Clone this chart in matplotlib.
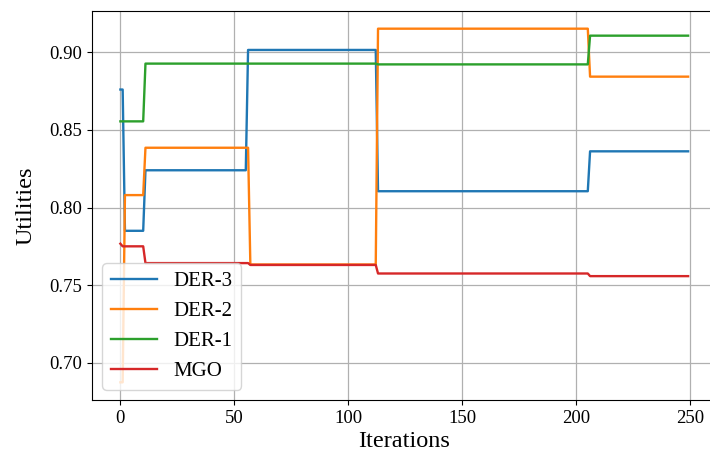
import numpy as np
import matplotlib
matplotlib.use("Agg")
import matplotlib.pyplot as plt

plt.rcParams["font.family"] = ["Liberation Serif", "DejaVu Serif"]
plt.rcParams["mathtext.fontset"] = "stix"

n_iter = 250
iterations = np.arange(n_iter)

# Piecewise-constant utility traces: iteration where each level starts, and the level
der3_starts = [0, 2, 11, 56, 113, 206]
der3_levels = [0.876, 0.785, 0.824, 0.9015, 0.8105, 0.8362]

der2_starts = [0, 2, 11, 57, 113, 206]
der2_levels = [0.6874, 0.808, 0.8385, 0.7633, 0.9152, 0.8843]

der1_starts = [0, 11, 113, 206]
der1_levels = [0.8555, 0.8927, 0.8922, 0.9107]

mgo_starts = [0, 1, 11, 57, 113, 206]
mgo_levels = [0.7767, 0.775, 0.7642, 0.763, 0.7575, 0.7558]

series_names = ["DER-3", "DER-2", "DER-1", "MGO"]


def expand(starts, levels):
    bounds = list(starts[1:]) + [n_iter]
    counts = np.diff([starts[0]] + bounds)
    return np.repeat(levels, counts)


series = [
    expand(der3_starts, der3_levels),
    expand(der2_starts, der2_levels),
    expand(der1_starts, der1_levels),
    expand(mgo_starts, mgo_levels),
]

W, H = 710, 461
fig = plt.figure(figsize=(W / 100, H / 100), dpi=100)
# the plot area runs slightly past the right edge of the canvas
ax = fig.add_axes([92 / W, 1 - 400 / H, 624.5 / W, (400 - 11) / H])

for values, name in zip(series, series_names):
    ax.plot(iterations, values, lw=1.7, label=name)

ax.grid(True, color="#b0b0b0", lw=0.9)
ax.set_xlabel("Iterations", fontsize=17.5, labelpad=3)
ax.set_ylabel("Utilities", fontsize=17.5, labelpad=9)
ax.tick_params(labelsize=13.5)
ax.set_yticks([0.70, 0.75, 0.80, 0.85, 0.90])
ax.set_xticks([0, 50, 100, 150, 200, 250])
ax.legend(loc="lower left", fontsize=15, handlelength=2.2)

fig.savefig("out.png", dpi=100)
